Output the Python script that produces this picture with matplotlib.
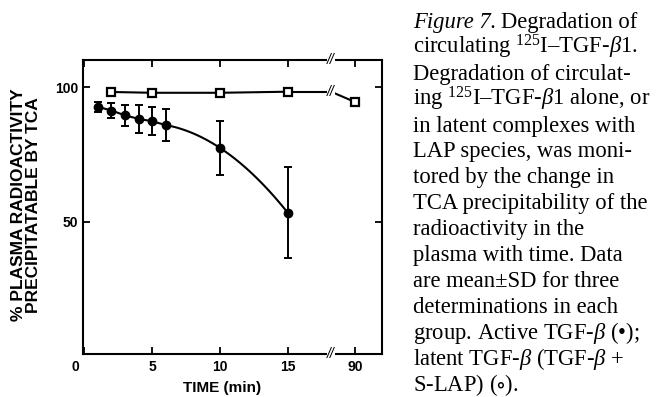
import matplotlib.pyplot as plt
import numpy as np
from matplotlib.transforms import ScaledTranslation

plt.rcParams['font.family'] = ['Liberation Sans', 'DejaVu Sans']
plt.rcParams['mathtext.fontset'] = 'custom'
plt.rcParams['mathtext.rm'] = 'Liberation Serif'
plt.rcParams['mathtext.it'] = 'Liberation Serif:italic'
plt.rcParams['mathtext.fallback'] = 'stix'

# active TGF-beta, closed circles (mean, SD)
t_active = [1, 2, 3, 4, 5, 6, 10, 15]
y_active = [92.8, 91.4, 89.6, 88.3, 87.4, 86.0, 77.5, 53.4]
sd_active = [1.9, 2.8, 3.9, 5.2, 5.2, 5.8, 10.0, 16.8]

# latent TGF-beta (TGF-beta + S-LAP), open squares
t_latent = [2, 5, 10, 15, 90]
y_latent = [98.3, 98.0, 98.0, 98.4, 94.5]

xtick_vals = [0, 5, 10, 15, 90]
ytick_vals = [50, 100]

caption = [
    None,  # first line is drawn in two pieces (italic + roman)
    r"circulating $^{125}$I–TGF-$\beta$1.",
    "Degradation of circulat-",
    r"ing $^{125}$I–TGF-$\beta$1 alone, or",
    "in latent complexes with",
    "LAP species, was moni-",
    "tored by the change in",
    "TCA precipitability of the",
    "radioactivity in the",
    "plasma with time. Data",
    "are mean±SD for three",
    "determinations in each",
    r"group. Active TGF-$\beta$ (•);",
    r"latent TGF-$\beta$ (TGF-$\beta$ +",
    r"S-LAP) ($\circ$).",
]

BRK = 18.2  # where the axis break sits on the compressed x axis


def xpos(t):
    # times after the break are drawn at a compressed position (90 -> 20)
    t = np.asarray(t, dtype=float)
    return np.where(t > 15, 20 + (t - 90) * 0.1, t)


fig = plt.figure(figsize=(6.7, 3.97), dpi=100)
ax = fig.add_axes([83 / 670, 43 / 397, 299 / 670, 294 / 397])

# closed circles: straight segments early, smooth fit through the late points
ax.plot(t_active[:6], y_active[:6], c='k', lw=1.5, zorder=3)
coef = np.polyfit(t_active[5:], y_active[5:], 2)
tt = np.linspace(t_active[5], t_active[-1], 80)
ax.plot(tt, np.polyval(coef, tt), c='k', lw=1.5, zorder=3)
ax.errorbar(t_active, y_active, yerr=sd_active, fmt='o', c='k', ms=6,
            elinewidth=1.4, capsize=3, capthick=1.4, zorder=4)

# open squares with a break on the line
xs = xpos(t_latent)
ax.plot(xs[:4], y_latent[:4], c='k', lw=1.5, zorder=3)
ax.plot([xs[3], BRK], [y_latent[3], y_latent[3]], c='k', lw=1.5, zorder=3)
ax.plot([BRK, xs[4]], [y_latent[3], y_latent[4]], c='k', lw=1.5, zorder=3)
ax.plot(xs, y_latent, 's', mfc='white', mec='k', mew=1.6, ms=5.5, zorder=5)

brk_kw = dict(ha='center', va='center', fontsize=10, style='italic',
              bbox=dict(fc='white', ec='none', pad=0.2), clip_on=False, zorder=6)
ax.text(BRK, y_latent[3], '//', **brk_kw)
ax.text(BRK, 0, '//', transform=ax.get_xaxis_transform(), **brk_kw)
ax.text(BRK, 1, '//', transform=ax.get_xaxis_transform(), **brk_kw)

ax.set_xlim(-0.1, 21.96)
ax.set_ylim(0.8, 110.2)
ax.set_xticks(xpos(xtick_vals))
ax.set_xticklabels([str(v) for v in xtick_vals])
ax.set_yticks(ytick_vals)
ax.tick_params(direction='in', length=5, width=1.3, top=True, right=True,
               labelsize=10)
ax.tick_params(axis='x', pad=4.5)
ax.tick_params(axis='y', pad=3.5)
for lab in ax.get_xticklabels() + ax.get_yticklabels():
    lab.set_fontweight('bold')
zero = ax.get_xticklabels()[0]
zero.set_transform(zero.get_transform() + ScaledTranslation(-0.09, 0, fig.dpi_scale_trans))
for sp in ax.spines.values():
    sp.set_linewidth(1.5)

ax.set_xlabel('TIME (min)', fontsize=11, fontweight='bold')
ax.xaxis.set_label_coords(0.464, -0.116)
ax.xaxis.label.set_va('center')

fig.text(26 / 670, 1 - 205 / 397, '% PLASMA RADIOACTIVITY\nPRECIPITATABLE BY TCA',
         rotation=90, ha='center', va='center', fontsize=12.5, fontweight='bold',
         linespacing=1.0, multialignment='center')

# caption
cap_kw = dict(fontsize=16.3, family=['Liberation Serif', 'DejaVu Serif'], va='baseline', ha='left')
x0 = 413 / 670
r = fig.canvas.get_renderer()
first = fig.text(x0, 1 - 28 / 397, 'Figure 7.', style='italic', **cap_kw)
w = first.get_window_extent(r).width
fig.text(x0 + (w + 5) / 670, 1 - 28 / 397, 'Degradation of', **cap_kw)
for i, line in enumerate(caption):
    if line is None:
        continue
    fig.text(x0, 1 - (28 + i * 25.9) / 397, line, **cap_kw)

fig.savefig('out.png', dpi=100)
